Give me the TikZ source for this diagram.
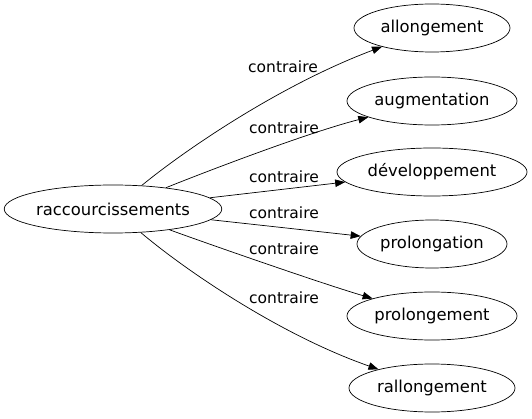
\documentclass[tikz,border=0pt]{standalone}
\usepackage{fontspec}
\setmainfont{DejaVu Sans}
\usetikzlibrary{arrows.meta,shapes.geometric}
\begin{document}
\begin{tikzpicture}[x=1pt,y=-1pt,
  word/.style={draw,ellipse,inner sep=0pt,minimum height=48pt,line width=0.7pt,font=\fontsize{16.4}{19}\selectfont},
  rel/.style={-{Triangle[length=10pt,width=7.5pt]},line width=0.7pt},
  lab/.style={font=\fontsize{15.5}{18}\selectfont}]
\useasboundingbox (0,0) rectangle (532,419);
\node[word,minimum width=216pt] (s) at (113,209) {raccourcissements};
\node[word,minimum width=156pt] (t1) at (432,28) {allongement};
\node[word,minimum width=170pt] (t2) at (432,101) {augmentation};
\node[word,minimum width=190pt] (t3) at (432,172) {développement};
\node[word,minimum width=150pt] (t4) at (432,244) {prolongation};
\node[word,minimum width=170pt] (t5) at (432,316) {prolongement};
\node[word,minimum width=166pt] (t6) at (432,388) {rallongement};
\draw[rel] (s) .. controls (185,150) and (280,85) .. (t1);
\draw[rel] (s) .. controls (210,170) and (310,132) .. (t2);
\draw[rel] (s) -- (t3);
\draw[rel] (s) -- (t4);
\draw[rel] (s) .. controls (200,241) and (320,283) .. (t5);
\draw[rel] (s) .. controls (185,270) and (280,335) .. (t6);
\node[lab] (l1) at (283,67) {contraire};
\node[lab] (l2) at (284,128) {contraire};
\node[lab] (l3) at (284,177) {contraire};
\node[lab] (l4) at (284,213) {contraire};
\node[lab] (l5) at (284,249) {contraire};
\node[lab] (l6) at (284,298) {contraire};
\end{tikzpicture}
\end{document}
